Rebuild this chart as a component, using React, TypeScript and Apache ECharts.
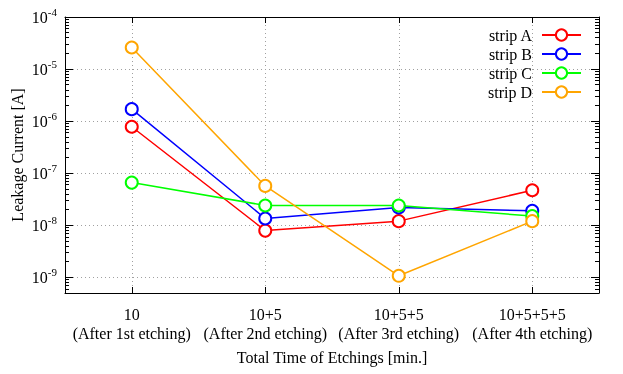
import React, { useEffect, useRef } from 'react';
import * as echarts from 'echarts';

const categories = [
  '10\n(After 1st etching)',
  '10+5\n(After 2nd etching)',
  '10+5+5\n(After 3rd etching)',
  '10+5+5+5\n(After 4th etching)',
];
const stripA = [7.8e-7, 7.9e-9, 1.2e-8, 4.7e-8];
const stripB = [1.7e-6, 1.35e-8, 2.2e-8, 1.9e-8];
const stripC = [6.6e-8, 2.4e-8, 2.4e-8, 1.5e-8];
const stripD = [2.6e-5, 5.7e-8, 1.07e-9, 1.2e-8];
const seriesNames = ['strip A', 'strip B', 'strip C', 'strip D'];
const seriesColors = ['#ff0000', '#0000ff', '#00ff00', '#ffa500'];
const yMajorExponents = [-9, -8, -7, -6, -5, -4];
const yMin = 5e-10;
const yMax = 1e-4;

const FONT = '"Liberation Serif", "DejaVu Serif", serif';

export default function App() {
  const ref = useRef<HTMLDivElement>(null);
  useEffect(() => {
    const chart = echarts.init(ref.current!, null, { renderer: 'svg' });
    const lo = Math.log10(yMin);
    const hi = Math.log10(yMax);
    const majors = yMajorExponents.slice();
    const minors: number[] = [];
    for (let e = Math.floor(lo); e < hi; e++) {
      for (let k = 2; k <= 9; k++) {
        const v = e + Math.log10(k);
        if (v > lo && v < hi) minors.push(v);
      }
    }
    const xTicks = categories.map((_, i) => i + 1);
    const datas = [stripA, stripB, stripC, stripD];
    const axisLine = { show: true, lineStyle: { color: '#000', width: 1 } };
    const baseY = {
      type: 'value',
      min: lo,
      max: hi,
      axisLabel: { show: false },
      splitLine: { show: false },
      axisLine: { show: false },
    };
    chart.setOption({
      animation: false,
      textStyle: { fontFamily: FONT },
      grid: { left: 65, right: 24, top: 17, bottom: 81, containLabel: false, outerBoundsMode: 'none' },
      legend: {
        orient: 'vertical',
        right: 41,
        top: 27,
        padding: 0,
        itemGap: 3,
        itemWidth: 39,
        itemHeight: 14,
        align: 'right',
        textStyle: { fontSize: 16, lineHeight: 14, fontFamily: FONT, color: '#000', padding: [0, 5, 0, 0] },
        data: seriesNames,
      },
      xAxis: [
        {
          type: 'value',
          min: 0.5,
          max: 4.5,
          position: 'bottom',
          axisLine,
          axisTick: { show: true, inside: true, length: 6, customValues: xTicks, lineStyle: { color: '#000' } },
          axisLabel: {
            customValues: xTicks,
            formatter: (v: number) => categories[Math.round(v) - 1] ?? '',
            fontSize: 16,
            fontFamily: FONT,
            color: '#000',
            lineHeight: 19,
            margin: 12,
          },
          splitLine: { show: true, lineStyle: { color: '#a0a0a0', type: [1, 3], width: 1 } },
          name: 'Total Time of Etchings [min.]',
          nameLocation: 'middle',
          nameGap: 56,
          nameTextStyle: { fontSize: 16, fontFamily: FONT, color: '#000' },
        },
        {
          type: 'value',
          min: 0.5,
          max: 4.5,
          position: 'top',
          axisLine,
          axisTick: { show: true, inside: true, length: 6, customValues: xTicks, lineStyle: { color: '#000' } },
          axisLabel: { show: false },
          splitLine: { show: false },
        },
      ],
      yAxis: [
        {
          type: 'value',
          min: lo,
          max: hi,
          position: 'left',
          axisLine,
          axisTick: { show: true, inside: true, length: 8, customValues: majors, lineStyle: { color: '#000' } },
          axisLabel: {
            customValues: majors,
            formatter: (v: number) => `{b|10}{s|${Math.round(v)}}`,
            margin: 8,
            rich: {
              b: { fontSize: 16, fontFamily: FONT, color: '#000' },
              s: { fontSize: 11, fontFamily: FONT, color: '#000', padding: [0, 0, 10, 0] },
            },
          },
          splitLine: { show: true, lineStyle: { color: '#a0a0a0', type: [1, 3], width: 1 } },
          name: 'Leakage Current [A]',
          nameLocation: 'middle',
          nameGap: 40,
          nameMoveOverlap: false,
          nameTextStyle: { fontSize: 16, fontFamily: FONT, color: '#000' },
        },
        {
          ...baseY,
          position: 'left',
          axisTick: { show: true, inside: true, length: 4, customValues: minors, lineStyle: { color: '#000' } },
        },
        {
          ...baseY,
          position: 'right',
          axisLine,
          axisTick: { show: true, inside: true, length: 8, customValues: majors, lineStyle: { color: '#000' } },
        },
        {
          ...baseY,
          position: 'right',
          axisTick: { show: true, inside: true, length: 4, customValues: minors, lineStyle: { color: '#000' } },
        },
      ],
      series: datas.map((d, i) => ({
        name: seriesNames[i],
        type: 'line',
        xAxisIndex: 0,
        yAxisIndex: 0,
        data: d.map((v, j) => [j + 1, Math.log10(v)]),
        symbol: 'emptyCircle',
        symbolSize: 12,
        color: seriesColors[i],
        lineStyle: { color: seriesColors[i], width: 1.5 },
        itemStyle: { color: seriesColors[i], borderWidth: 1.5, borderColor: seriesColors[i] },
      })),
    });
    return () => chart.dispose();
  }, []);
  return <div ref={ref} style={{ position: 'fixed', left: 0, top: 0, width: 623, height: 374 }} />;
}
